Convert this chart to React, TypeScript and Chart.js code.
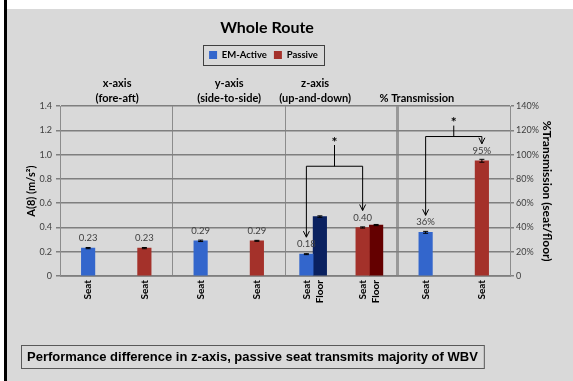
import React, { useEffect, useRef } from "react";
import { Chart, registerables } from "chart.js";

Chart.register(...registerables);

// ---------- data ----------
const chartTitle = "Whole Route";
const categories = [
  "x-axis EM-Active", "x-axis Passive",
  "y-axis EM-Active", "y-axis Passive",
  "z-axis EM-Active", "z-axis Passive",
  "Transmission EM-Active", "Transmission Passive",
];
const categoryPanel = [0, 0, 1, 1, 2, 2, 3, 3];
const panelHeaders = [["x-axis", "(fore-aft)"], ["y-axis", "(side-to-side)"], ["z-axis", "(up-and-down)"], ["% Transmission"]];
const legendSeries = ["EM-Active", "Passive"];

const emActiveSeat = [0.23, null, 0.29, null, 0.18, null, null, null];
const emActiveFloor = [null, null, null, null, 0.49, null, null, null];
const passiveSeat = [null, 0.23, null, 0.29, null, 0.40, null, null];
const passiveFloor = [null, null, null, null, null, 0.42, null, null];
const emActiveTransmission = [null, null, null, null, null, null, 36, null];
const passiveTransmission = [null, null, null, null, null, null, null, 95];

const emActiveSeatError = [0.005, null, 0.006, null, 0.004, null, null, null];
const emActiveFloorError = [null, null, null, null, 0.006, null, null, null];
const passiveSeatError = [null, 0.005, null, 0.004, null, 0.005, null, null];
const passiveFloorError = [null, null, null, null, null, 0.005, null, null];
const emActiveTransmissionError = [null, null, null, null, null, null, 0.8, null];
const passiveTransmissionError = [null, null, null, null, null, null, null, 1.2];

const accelMax = 1.4;
const accelStep = 0.2;
const transmissionMax = 140;
const transmissionStep = 20;

const yTitle = "A(8) (m/s²)";
const y1Title = "%Transmission (seat/floor)";
const footnote = "Performance difference in z-axis, passive seat transmits majority of WBV";

const significance = [
  { from: "EM-Active", fromIndex: 4, to: "Passive", toIndex: 5, axis: "y", bracket: 0.905, stem: 1.08 },
  { from: "EM-Active transmission", fromIndex: 6, to: "Passive transmission", toIndex: 7, axis: "y1", bracket: 115, stem: 124 },
];

// ---------- styles ----------
const BLUE = "#3366cc";
const RED = "#a4312a";
const NAVY = "#0a2160";
const DARKRED = "#640000";
const GRID = "#7f7f7f";
const AXIS = "#8c8c8c";
const DIVIDER = "#999999";
const FONT = "Lato";

const fmtAccel = (v: number) => v.toFixed(2);
const fmtPct = (v: number) => `${v}%`;

const headerX = [0.127, 0.376, 0.567, 0.793];

const decorPlugin = {
  id: "decor",
  beforeInit(chart: any) {
    const legend = chart.legend;
    if (legend) {
      const fit = legend.fit;
      legend.fit = function () {
        fit.call(legend);
        legend.height += 36.5;
      };
    }
  },
  afterLayout(chart: any) {
    // shift title and legend block slightly left, as in the original slide
    if (chart.titleBlock) chart.titleBlock.right -= 45;
    if (chart.legend) chart.legend.right -= 52;
  },
  beforeDraw(chart: any) {
    const { ctx, width, height } = chart;
    ctx.save();
    ctx.fillStyle = "#ffffff";
    ctx.fillRect(0, 0, width, height);
    ctx.fillStyle = "#000000";
    ctx.fillRect(4, 0, 3, height);
    ctx.fillStyle = "#d9d9d9";
    ctx.fillRect(7, 9, width - 7, height - 9);
    ctx.restore();
  },
  afterDatasetsDraw(chart: any) {
    const { ctx, chartArea } = chart;
    ctx.save();
    chart.data.datasets.forEach((ds: any, di: number) => {
      const meta = chart.getDatasetMeta(di);
      const scale = chart.scales[ds.yAxisID];
      meta.data.forEach((bar: any, i: number) => {
        const v = ds.data[i];
        if (v == null) return;
        const err = ds.errors ? ds.errors[i] : null;
        if (err) {
          const yHi = scale.getPixelForValue(v + err);
          const yLo = scale.getPixelForValue(v - err);
          ctx.strokeStyle = "#000";
          ctx.lineWidth = 1;
          ctx.beginPath();
          ctx.moveTo(bar.x, yHi);
          ctx.lineTo(bar.x, yLo);
          ctx.moveTo(bar.x - 2.5, yHi);
          ctx.lineTo(bar.x + 2.5, yHi);
          ctx.moveTo(bar.x - 2.5, yLo);
          ctx.lineTo(bar.x + 2.5, yLo);
          ctx.stroke();
        }
        if (ds.valueFormat) {
          ctx.fillStyle = "#404040";
          ctx.font = `9.5px ${FONT}`;
          ctx.textAlign = "center";
          ctx.textBaseline = "middle";
          ctx.fillText(ds.valueFormat(v), bar.x, bar.y - 10);
        }
        if (ds.barText) {
          ctx.save();
          ctx.translate(bar.x, chartArea.bottom + 4);
          ctx.rotate(-Math.PI / 2);
          ctx.fillStyle = "#000";
          ctx.font = `bold 10px ${FONT}`;
          ctx.textAlign = "right";
          ctx.textBaseline = "middle";
          ctx.fillText(ds.barText, 0, 0);
          ctx.restore();
        }
      });
    });

    // significance brackets
    significance.forEach((s) => {
      const fi = chart.data.datasets.findIndex((d: any) => d.label === s.from);
      const ti = chart.data.datasets.findIndex((d: any) => d.label === s.to);
      const b1 = chart.getDatasetMeta(fi).data[s.fromIndex];
      const b2 = chart.getDatasetMeta(ti).data[s.toIndex];
      const scale = chart.scales[s.axis];
      const yb = scale.getPixelForValue(s.bracket);
      const ys = scale.getPixelForValue(s.stem);
      const t1 = b1.y - 17;
      const t2 = b2.y - 17;
      const xm = (b1.x + b2.x) / 2;
      ctx.strokeStyle = "#000";
      ctx.lineWidth = 1;
      ctx.beginPath();
      ctx.moveTo(b1.x, t1);
      ctx.lineTo(b1.x, yb);
      ctx.lineTo(b2.x, yb);
      ctx.lineTo(b2.x, t2);
      ctx.moveTo(xm, yb);
      ctx.lineTo(xm, ys);
      [[b1.x, t1], [b2.x, t2]].forEach(([x, y]) => {
        ctx.moveTo(x - 3, y - 6);
        ctx.lineTo(x, y);
        ctx.lineTo(x + 3, y - 6);
      });
      ctx.stroke();
      ctx.fillStyle = "#000";
      ctx.font = `bold 14px ${FONT}`;
      ctx.textAlign = "center";
      ctx.textBaseline = "middle";
      ctx.fillText("*", xm, ys - 3);
    });
    ctx.restore();
  },
  afterDraw(chart: any) {
    const { ctx, chartArea } = chart;
    ctx.save();
    // panel headers
    ctx.fillStyle = "#000";
    ctx.font = `bold 11px ${FONT}`;
    ctx.textAlign = "center";
    ctx.textBaseline = "middle";
    panelHeaders.forEach((lines, p) => {
      const x = chartArea.left + headerX[p] * (chartArea.right - chartArea.left);
      lines.forEach((line, k) => {
        const y = chartArea.top - 8 - (lines.length - 1 - k) * 15;
        ctx.fillText(line, x, y);
      });
    });
    // legend frame
    const hb = chart.legend && chart.legend.legendHitBoxes;
    if (hb && hb.length) {
      const l = Math.min(...hb.map((h: any) => h.left)) - 6;
      const r = Math.max(...hb.map((h: any) => h.left + h.width)) + 6;
      const t = hb[0].top - 5;
      const b = hb[0].top + hb[0].height + 5;
      ctx.strokeStyle = "#404040";
      ctx.lineWidth = 1;
      ctx.strokeRect(Math.round(l) + 0.5, Math.round(t) + 0.5, Math.round(r - l), Math.round(b - t));
    }
    // footnote box
    ctx.font = `bold 13px "Liberation Sans"`;
    ctx.textAlign = "left";
    ctx.textBaseline = "middle";
    const w = ctx.measureText(footnote).width;
    const bx = 21, by = 345, bh = 23;
    ctx.strokeStyle = "#595959";
    ctx.lineWidth = 1;
    ctx.strokeRect(bx + 0.5, by + 0.5, w + 12, bh);
    ctx.fillStyle = "#000";
    ctx.fillText(footnote, bx + 6, by + bh / 2 + 1);
    ctx.restore();
  },
};

const panelBoundaries = categoryPanel
  .map((p, i) => (i > 0 && p !== categoryPanel[i - 1] ? i : -1))
  .filter((i) => i > 0);
const lastBoundary = panelBoundaries[panelBoundaries.length - 1];

export default function App() {
  const ref = useRef<HTMLCanvasElement | null>(null);

  useEffect(() => {
    if (!ref.current) return;
    Chart.defaults.font.family = FONT;
    const common = { barThickness: 13.5, skipNull: true, borderWidth: 0 };
    const chart = new Chart(ref.current, {
      type: "bar",
      data: {
        labels: categories,
        datasets: [
          { ...common, label: "EM-Active", data: emActiveSeat, yAxisID: "y", backgroundColor: BLUE, errors: emActiveSeatError, valueFormat: fmtAccel, barText: "Seat" } as any,
          { ...common, label: "EM-Active floor", data: emActiveFloor, yAxisID: "y", backgroundColor: NAVY, errors: emActiveFloorError, barText: "Floor" } as any,
          { ...common, label: "Passive", data: passiveSeat, yAxisID: "y", backgroundColor: RED, errors: passiveSeatError, valueFormat: fmtAccel, barText: "Seat" } as any,
          { ...common, label: "Passive floor", data: passiveFloor, yAxisID: "y", backgroundColor: DARKRED, errors: passiveFloorError, barText: "Floor" } as any,
          { ...common, label: "EM-Active transmission", data: emActiveTransmission, yAxisID: "y1", backgroundColor: BLUE, errors: emActiveTransmissionError, valueFormat: fmtPct, barText: "Seat" } as any,
          { ...common, label: "Passive transmission", data: passiveTransmission, yAxisID: "y1", backgroundColor: RED, errors: passiveTransmissionError, valueFormat: fmtPct, barText: "Seat" } as any,
        ],
      },
      options: {
        responsive: false,
        devicePixelRatio: 1,
        animation: false,
        events: [],
        layout: { padding: { left: 20, right: 14, top: 10, bottom: 0 } },
        plugins: {
          title: {
            display: true,
            text: chartTitle,
            color: "#000",
            font: { size: 16, weight: "bold", family: FONT },
            padding: { top: 8, bottom: 6 },
          },
          legend: {
            display: true,
            position: "top",
            labels: {
              boxWidth: 8,
              boxHeight: 8,
              padding: 7,
              color: "#000",
              font: { size: 9.5, weight: "bold", family: FONT },
              filter: (item: any) => legendSeries.includes(item.text),
            },
          },
          tooltip: { enabled: false },
        },
        scales: {
          x: {
            type: "category",
            offset: true,
            afterFit: (s: any) => { s.height = 105; },
            ticks: { display: false },
            grid: {
              offset: true,
              drawTicks: false,
              color: (c: any) => (panelBoundaries.includes(c.index) ? (c.index === lastBoundary ? DIVIDER : AXIS) : "rgba(0,0,0,0)"),
              lineWidth: (c: any) => (c.index === lastBoundary ? 3 : 1),
            },
            border: { display: true, color: AXIS, width: 1 },
          },
          y: {
            type: "linear",
            position: "left",
            min: 0,
            max: accelMax,
            afterFit: (s: any) => { s.width = 40; },
            ticks: {
              stepSize: accelStep,
              padding: 4,
              color: "#404040",
              font: { size: 9, family: FONT },
              callback: (v: any) => (v === 0 ? "0" : Number(v).toFixed(1)),
            },
            grid: { color: GRID, lineWidth: 1.5, tickLength: 4, tickColor: GRID },
            border: { display: true, color: AXIS, width: 1 },
            title: {
              display: true,
              text: yTitle,
              color: "#000",
              font: { size: 11, weight: "bold", family: FONT },
              padding: { top: 5, bottom: 0 },
            },
          },
          y1: {
            type: "linear",
            position: "right",
            min: 0,
            max: transmissionMax,
            afterFit: (s: any) => { s.width = 49; },
            ticks: {
              stepSize: transmissionStep,
              padding: 2,
              color: "#404040",
              font: { size: 9, family: FONT },
              callback: (v: any) => (v === 0 ? "0" : `${v}%`),
            },
            grid: { drawOnChartArea: false, color: GRID, tickLength: 4, tickColor: GRID, lineWidth: 1.5 },
            border: { display: true, color: AXIS, width: 1 },
            title: {
              display: true,
              text: y1Title,
              color: "#000",
              font: { size: 12, weight: "bold", family: FONT },
              padding: { top: 5, bottom: 0 },
            },
          },
        },
      } as any,
      plugins: [decorPlugin],
    });
    return () => chart.destroy();
  }, []);

  return (
    <canvas
      ref={ref}
      width={573}
      height={381}
      style={{ position: "absolute", left: 0, top: 0, width: 573, height: 381 }}
    />
  );
}
